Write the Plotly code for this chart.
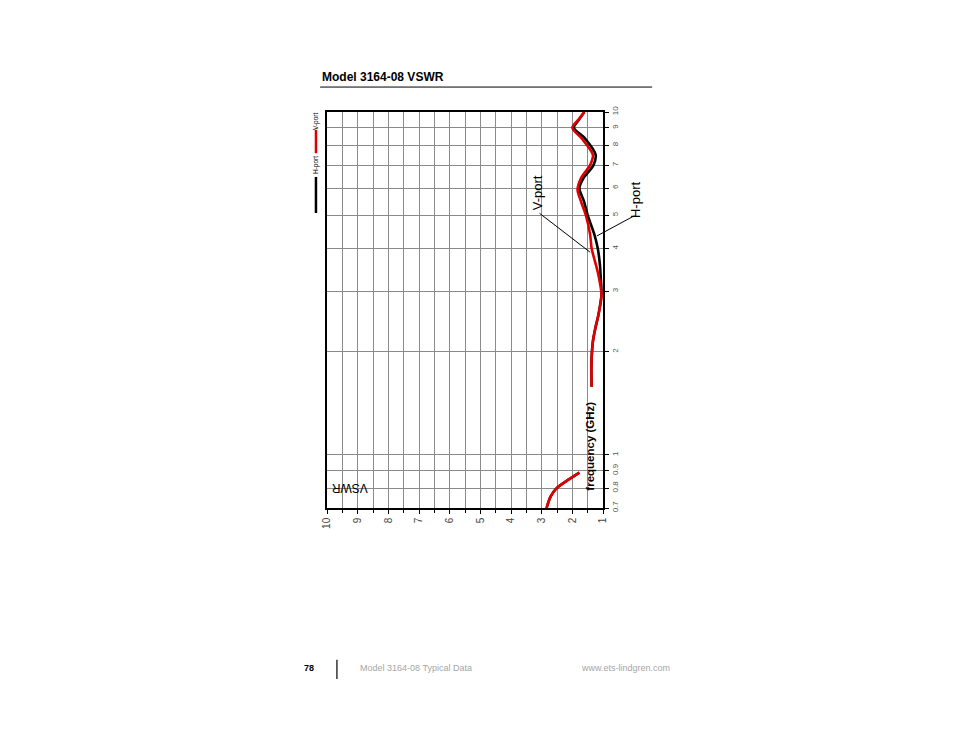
import numpy as np
import plotly.graph_objects as go

# frequency (GHz) and VSWR
freq_low = [0.70, 0.756, 0.80, 0.836, 0.888]
vswr_low = [2.84, 2.71, 2.51, 2.22, 1.77]

freq_h = [1.58, 1.79, 2.0, 2.14, 2.34, 2.56, 2.93, 3.35, 3.58, 4.0, 4.39, 5.0,
          5.49, 6.0, 6.41, 7.0, 7.5, 8.38, 9.0, 9.5, 10.0]
vswr_h = [1.37, 1.38, 1.36, 1.33, 1.25, 1.15, 1.05, 1.08, 1.10, 1.17, 1.28, 1.50,
          1.62, 1.77, 1.64, 1.31, 1.24, 1.59, 1.95, 1.78, 1.61]

freq_v = [1.58, 1.79, 2.0, 2.14, 2.34, 2.56, 2.93, 3.35, 3.58, 4.0, 4.39, 5.0,
          5.49, 5.93, 6.41, 7.0, 7.5, 8.38, 9.0, 9.5, 10.0]
vswr_v = [1.37, 1.38, 1.36, 1.33, 1.25, 1.15, 1.05, 1.15, 1.23, 1.37, 1.42, 1.56,
          1.72, 1.83, 1.72, 1.42, 1.33, 1.70, 2.00, 1.80, 1.61]

freq_ticks = [0.7, 0.8, 0.9, 1, 2, 3, 4, 5, 6, 7, 8, 9, 10]
vswr_ticks = [1, 2, 3, 4, 5, 6, 7, 8, 9, 10]

FONT = "Arial, Liberation Sans, sans-serif"

fig = go.Figure()

# black H-port first, red V-port on top
fig.add_trace(go.Scatter(
    x=vswr_low + [None] + vswr_h,
    y=freq_low + [None] + freq_h,
    mode="lines", name="H-port",
    line=dict(color="#000000", width=2.6, shape="spline", smoothing=0.8),
))
fig.add_trace(go.Scatter(
    x=vswr_low + [None] + vswr_v,
    y=freq_low + [None] + freq_v,
    mode="lines", name="V-port",
    line=dict(color="#e00000", width=2.6, shape="spline", smoothing=0.8),
))

fig.update_xaxes(
    range=[10, 1],
    tickvals=vswr_ticks,
    ticktext=[str(v) for v in vswr_ticks],
    tickangle=-90,
    tickfont=dict(family=FONT, size=10, color="#444444"),
    ticks="outside", ticklen=4, tickcolor="#000000",
    showgrid=True, gridcolor="#8a8a8a", gridwidth=1,
    minor=dict(dtick=0.5, showgrid=True, gridcolor="#8a8a8a", gridwidth=1,
               ticks="outside", ticklen=3, tickcolor="#000000"),
    showline=True, linecolor="#000000", linewidth=1.6, mirror=True,
    zeroline=False,
)
fig.update_yaxes(
    type="log",
    range=[np.log10(0.7), 1],
    side="right",
    tickvals=freq_ticks,
    ticktext=[str(v) for v in freq_ticks],
    tickangle=-90,
    tickfont=dict(family=FONT, size=8, color="#555555"),
    ticks="outside", ticklen=4, tickcolor="#000000",
    showgrid=True, gridcolor="#8a8a8a", gridwidth=1,
    showline=True, linecolor="#000000", linewidth=1.6, mirror=True,
    zeroline=False,
)


def note(text, x, y, size, color="#000000", angle=0, xanchor="center"):
    return dict(text=text, xref="paper", yref="paper", x=x, y=y,
                xanchor=xanchor, yanchor="middle", textangle=angle,
                showarrow=False, font=dict(family=FONT, size=size, color=color))


annotations = [
    # page title
    note("<b>Model 3164-08 VSWR</b>", -0.025, 1.088, 12, xanchor="left"),
    # axis titles
    note("VSWR", 0.083, 0.05, 12, angle=180),
    note("<b>frequency (GHz)</b>", 0.953, 0.155, 11.5, angle=-90),
    # curve labels
    note("V-port", 0.761, 0.795, 13, angle=-90),
    note("H-port", 1.12, 0.778, 13, angle=-90),
    # legend text
    note("H-port", -0.04, 0.866, 6.5, angle=-90),
    note("V-port", -0.04, 0.977, 6.5, angle=-90),
    # footer
    note("<b>78</b>", -0.065, -0.404, 9),
    note("Model 3164-08 Typical Data", 0.112, -0.404, 9, color="#a6a6a6", xanchor="left"),
    note("www.ets-lindgren.com", 1.25, -0.404, 9, color="#a6a6a6", xanchor="right"),
    # leader lines
    dict(text="", x=1.42, y=np.log10(3.9), ax=-52, ay=-40, showarrow=True,
         arrowhead=0, arrowwidth=1, arrowcolor="#000000", standoff=0),
    dict(text="", x=1.20, y=np.log10(4.35), ax=39, ay=-21, showarrow=True,
         arrowhead=0, arrowwidth=1, arrowcolor="#000000", standoff=0),
]

shapes = [
    # title rule
    dict(type="line", xref="paper", yref="paper", x0=-0.025, x1=1.178,
         y0=1.063, y1=1.063, line=dict(color="#000000", width=1)),
    # legend swatches
    dict(type="line", xref="paper", yref="paper", x0=-0.04, x1=-0.04,
         y0=0.745, y1=0.836, line=dict(color="#000000", width=2.5)),
    dict(type="line", xref="paper", yref="paper", x0=-0.04, x1=-0.04,
         y0=0.896, y1=0.955, line=dict(color="#e00000", width=2.5)),
    # footer separator
    dict(type="line", xref="paper", yref="paper", x0=0.036, x1=0.036,
         y0=-0.383, y1=-0.432, line=dict(color="#000000", width=1.2)),
]

fig.update_layout(
    width=954, height=738,
    margin=dict(l=319, r=359, t=104, b=238, pad=0),
    paper_bgcolor="#ffffff", plot_bgcolor="#ffffff",
    showlegend=False,
    annotations=annotations,
    shapes=shapes,
    font=dict(family=FONT),
)

fig.write_html("out.html")
